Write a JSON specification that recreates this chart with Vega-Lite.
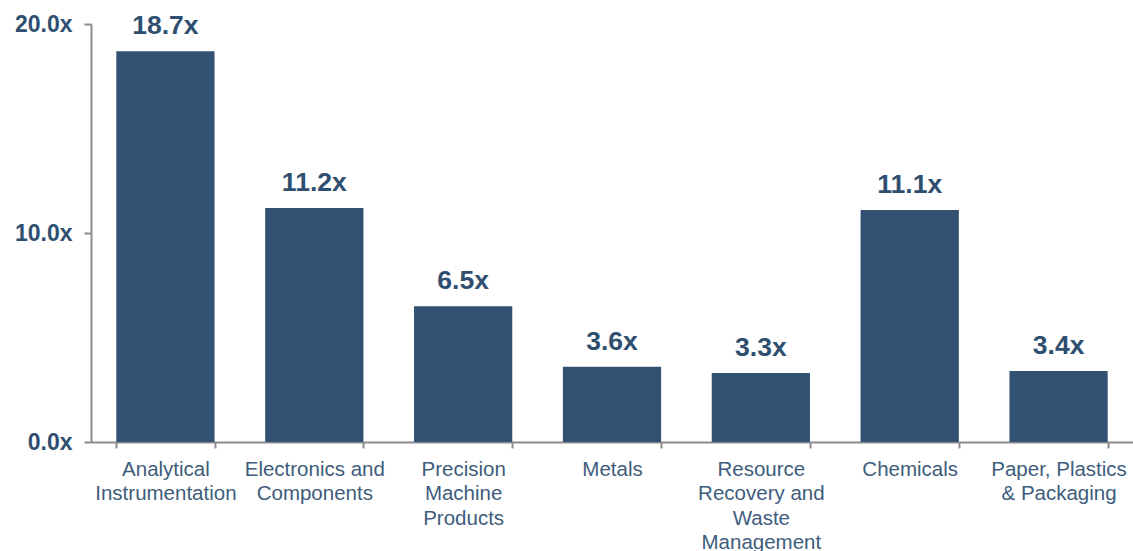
{
  "$schema": "https://vega.github.io/schema/vega-lite/v6.json",
  "width": 1042,
  "height": 418,
  "autosize": {"type": "none"},
  "padding": {"left": 91, "top": 24, "right": 0, "bottom": 109},
  "config": {"view": {"stroke": null}, "font": "Liberation Sans"},
  "data": {
    "values": [
      {"category": "Analytical|Instrumentation", "value": 18.7},
      {"category": "Electronics and|Components", "value": 11.2},
      {"category": "Precision|Machine|Products", "value": 6.5},
      {"category": "Metals", "value": 3.6},
      {"category": "Resource|Recovery and|Waste|Management", "value": 3.3},
      {"category": "Chemicals", "value": 11.1},
      {"category": "Paper, Plastics|& Packaging", "value": 3.4}
    ]
  },
  "transform": [{"calculate": "format(datum.value, '.1f') + 'x'", "as": "label"}],
  "encoding": {
    "x": {
      "field": "category",
      "type": "nominal",
      "sort": null,
      "scale": {"paddingInner": 0.34, "paddingOuter": 0.17},
      "axis": {
        "title": null,
        "labelAngle": 0,
        "labelExpr": "split(datum.label, '|')",
        "labelFont": "Liberation Sans",
        "labelFontSize": 20.5,
        "labelLineHeight": 24.5,
        "labelColor": "#3e5c7c",
        "labelPadding": 11,
        "labelLimit": 200,
        "tickBand": "extent",
        "tickSize": 6,
        "tickWidth": 2,
        "tickColor": "#8c8c8c",
        "domainColor": "#8c8c8c",
        "domainWidth": 2
      }
    },
    "y": {
      "field": "value",
      "type": "quantitative",
      "scale": {"domain": [0, 20], "nice": false},
      "axis": {
        "title": null,
        "values": [0, 10, 20],
        "labelExpr": "format(datum.value, '.1f') + 'x'",
        "labelFont": "Liberation Sans",
        "labelFontSize": 23,
        "labelFontWeight": "bold",
        "labelColor": "#2f4f70",
        "labelPadding": 12,
        "grid": false,
        "tickSize": 7,
        "tickWidth": 2,
        "tickColor": "#8c8c8c",
        "domainColor": "#8c8c8c",
        "domainWidth": 2
      }
    }
  },
  "layer": [
    {"mark": {"type": "bar", "color": "#335273"}},
    {
      "mark": {"type": "text", "baseline": "alphabetic", "dy": -17, "fontSize": 26.5, "fontWeight": "bold", "color": "#2f4f70", "font": "Liberation Sans"},
      "encoding": {"text": {"field": "label", "type": "nominal"}}
    }
  ]
}
